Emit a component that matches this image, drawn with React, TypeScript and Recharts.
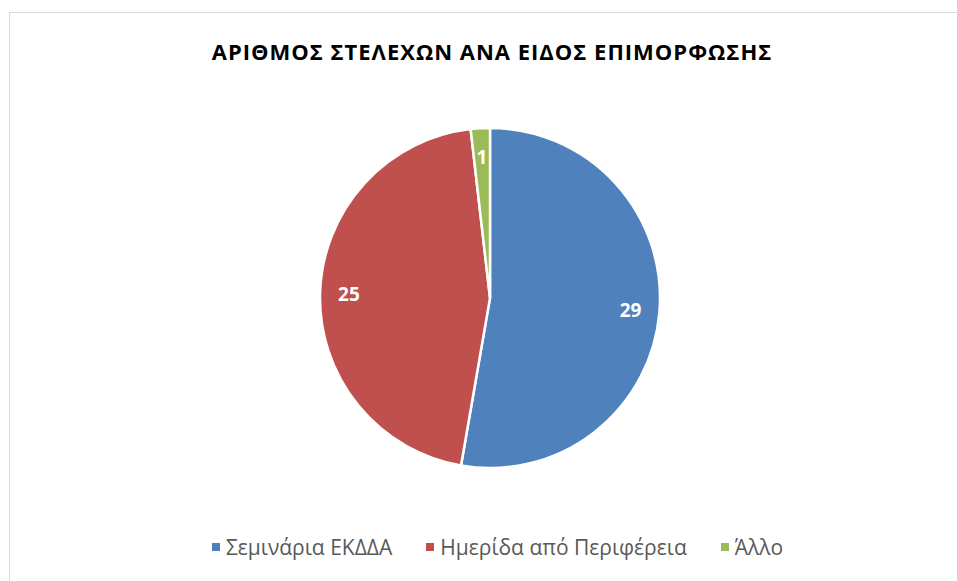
import { Cell, Legend, Pie, PieChart } from "recharts";

const categories = ["Σεμινάρια ΕΚΔΔΑ", "Ημερίδα από Περιφέρεια", "Άλλο"];
const counts = [29, 25, 1];
const colors = ["#4F81BD", "#C0504D", "#9BBB59"];

const data = categories.map((name, i) => ({ name, value: counts[i] }));

const RADIAN = Math.PI / 180;

function renderLabel(props: any) {
  const { cx, cy, midAngle, outerRadius, value } = props;
  const r = outerRadius * 0.83;
  const x = cx + r * Math.cos(-midAngle * RADIAN);
  const y = cy + r * Math.sin(-midAngle * RADIAN);
  return (
    <text
      x={x}
      y={y}
      fill="#fff"
      fontSize={19}
      fontWeight={700}
      fontFamily="'Open Sans', sans-serif"
      textAnchor="middle"
      dominantBaseline="central"
    >
      {value}
    </text>
  );
}

function renderLegend() {
  return (
    <div
      style={{
        display: "flex",
        justifyContent: "center",
        gap: 34,
        fontFamily: "'Open Sans', sans-serif",
        fontSize: 21,
        color: "#595959",
      }}
    >
      {categories.map((name, i) => (
        <div key={name} style={{ display: "flex", alignItems: "center" }}>
          <span style={{ width: 8, height: 8, background: colors[i], marginRight: 6, display: "inline-block" }} />
          {name}
        </div>
      ))}
    </div>
  );
}

export default function App() {
  return (
    <div style={{ position: "fixed", left: 0, top: 0, width: 957, height: 581, overflow: "hidden", background: "#fff" }}>
      <div
        style={{
          position: "absolute",
          left: 9,
          top: 12,
          width: 980,
          height: 620,
          border: "1px solid #d9d9d9",
          boxSizing: "border-box",
        }}
      />
      <div style={{ position: "absolute", left: 0, top: 0 }}>
        <PieChart width={957} height={581} margin={{ top: 0, right: 0, bottom: 0, left: 0 }}>
          <text
            x={492}
            y={51}
            textAnchor="middle"
            dominantBaseline="central"
            fontFamily="'Open Sans', sans-serif"
            fontSize={22}
            fontWeight={700}
            letterSpacing={1}
            fill="#000"
          >
            ΑΡΙΘΜΟΣ ΣΤΕΛΕΧΩΝ ΑΝΑ ΕΙΔΟΣ ΕΠΙΜΟΡΦΩΣΗΣ
          </text>
          <Pie
            data={data}
            dataKey="value"
            nameKey="name"
            cx={490}
            cy={298}
            outerRadius={170}
            startAngle={90}
            endAngle={-270}
            stroke="#fff"
            strokeWidth={2.5}
            label={renderLabel}
            labelLine={false}
            isAnimationActive={false}
          >
            {data.map((d, i) => (
              <Cell key={d.name} fill={colors[i]} />
            ))}
          </Pie>
          <Legend
            content={renderLegend}
            verticalAlign="bottom"
            wrapperStyle={{ top: 533, bottom: "auto", left: 0, width: 995 }}
          />
        </PieChart>
      </div>
    </div>
  );
}
